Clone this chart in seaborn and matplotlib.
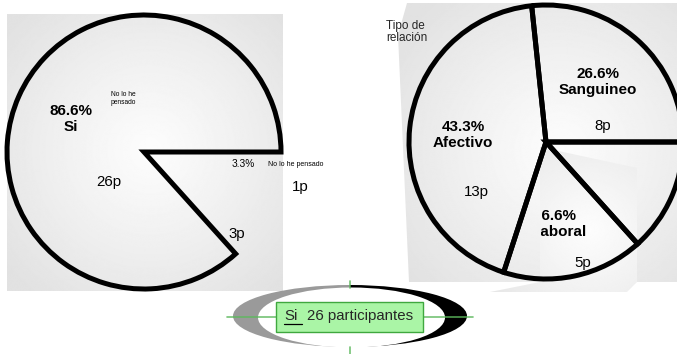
import numpy as np
import matplotlib
matplotlib.use("Agg")
import matplotlib.pyplot as plt
import seaborn as sns
from matplotlib.patches import Rectangle, Ellipse, Polygon

# ---------------- data ----------------
left_labels = ["Si", "", "No lo he pensado"]
left_counts = [26, 3, 1]
left_pct_labels = ["86.6%", "", "3.3%"]

right_labels = ["Sanguineo", "Afectivo", "Laboral", ""]
right_counts = [8, 13, 5, 4]
right_pct_labels = ["26.6%", "43.3%", "16.6%", ""]

summary_cat = "Si"
summary_n = 26
group_title = "Tipo de\nrelación"

# ---------------- style ----------------
sns.set_theme(style="white")
plt.rcParams["font.family"] = ["Liberation Sans", "DejaVu Sans"]

W, H = 677, 354
fig = plt.figure(figsize=(W / 100, H / 100), dpi=100)
ax = fig.add_axes([0, 0, 1, 1])
ax.set_xlim(0, W)
ax.set_ylim(H, 0)
ax.axis("off")


def radial_bg(x0, x1, y0, y1, cx, cy, R, lo, hi, clip=None, z=0):
    xs = np.linspace(x0, x1, 300)
    ys = np.linspace(y0, y1, 300)
    X, Y = np.meshgrid(xs, ys)
    r = np.clip(np.hypot(X - cx, Y - cy) / R, 0, 1)
    Z = hi - (hi - lo) * r ** 1.1
    im = ax.imshow(Z, extent=(x0, x1, y1, y0), cmap="gray", vmin=0, vmax=1,
                   origin="upper", zorder=z, interpolation="bilinear", aspect="auto")
    if clip is not None:
        ax.add_patch(clip)
        clip.set_visible(False)
        im.set_clip_path(clip)
    return im


# backgrounds
radial_bg(7, 283, 14, 291, 150, 150, 185, 0.885, 0.99)
poly_main = Polygon([(398, 35), (407, 3), (677, 3), (677, 282), (409, 282)],
                    closed=True, transform=ax.transData)
radial_bg(395, 677, 3, 282, 560, 150, 195, 0.885, 0.99, clip=poly_main)
poly_low = Polygon([(540, 147), (637, 168), (637, 282), (627, 292), (490, 292), (540, 282)],
                   closed=True, transform=ax.transData)
radial_bg(488, 640, 145, 293, 590, 230, 120, 0.9, 0.99, clip=poly_low, z=0.5)

EDGE = dict(edgecolor="black", linewidth=3.6, facecolor="none", joinstyle="miter")

# left pie (only the "Si" slice is outlined)
wl, _ = ax.pie(left_counts, startangle=0, counterclock=False, radius=137,
               center=(144, 152), wedgeprops=EDGE, frame=True)
for i, w in enumerate(wl):
    w.set_zorder(2)
    if i > 0:
        w.set_visible(False)

# right pie
wr, _ = ax.pie(right_counts, startangle=0, counterclock=False, radius=137,
               center=(546, 142), wedgeprops=EDGE, frame=True)
for w in wr:
    w.set_zorder(2)

ax.set_xlim(0, W)
ax.set_ylim(H, 0)
ax.set_aspect("auto")
ax.axis("off")

# ---------------- texts left ----------------
kw = dict(ha="center", va="center", zorder=4, color="black")
ax.text(71, 119, f"{left_pct_labels[0]}\n{left_labels[0]}", fontsize=11,
        fontweight="bold", linespacing=1.1, **kw)
ax.text(123, 98, "No lo he\npensado", fontsize=4.8, linespacing=1.2, **kw)
ax.text(109, 182, f"{left_counts[0]}p", fontsize=10.8, **kw)
ax.text(243, 164, left_pct_labels[2], fontsize=7.3, **kw)
ax.text(296, 164, left_labels[2], fontsize=5, **kw)
ax.text(300, 187, f"{left_counts[2]}p", fontsize=10.8, **kw)
ax.text(237, 234, f"{left_counts[1]}p", fontsize=10.8, **kw)

# ---------------- texts right ----------------
ax.text(386, 32, group_title, fontsize=8.5, ha="left", va="center",
        linespacing=1.1, zorder=4)
ax.text(598, 82, f"{right_pct_labels[0]}\n{right_labels[0]}", fontsize=11,
        fontweight="bold", linespacing=1.15, **kw)
ax.text(603, 126, f"{right_counts[0]}p", fontsize=10.8, **kw)
ax.text(463, 135, f"{right_pct_labels[1]}\n{right_labels[1]}", fontsize=11,
        fontweight="bold", linespacing=1.15, **kw)
ax.text(476, 192, f"{right_counts[1]}p", fontsize=10.8, **kw)
clip_r = Rectangle((542, 0), 200, H, transform=ax.transData)
t1 = ax.text(554, 216, right_pct_labels[2], fontsize=11, fontweight="bold",
             clip_on=True, **kw)
t1.set_clip_path(clip_r)
t2 = ax.text(558.5, 232, right_labels[2], fontsize=11, fontweight="bold",
             clip_on=True, **kw)
t2.set_clip_path(Rectangle((541, 0), 200, H, transform=ax.transData))
ax.text(583, 263, f"{right_counts[2]}p", fontsize=10.8, **kw)

# ---------------- summary badge ----------------
cx, cy = 350, 316
outer_g = Ellipse((cx, cy), 234, 62, facecolor="#9a9a9a", edgecolor="none", zorder=5)
outer_b = Ellipse((cx, cy), 234, 62, facecolor="black", edgecolor="none", zorder=5)
ax.add_patch(outer_g)
ax.add_patch(outer_b)
outer_g.set_clip_path(Rectangle((0, 0), cx, H, transform=ax.transData))
outer_b.set_clip_path(Rectangle((cx, 0), W, H, transform=ax.transData))
ax.add_patch(Ellipse((351.5, 317.5), 187, 60, facecolor="white", edgecolor="none", zorder=6))

green = "#5cb85c"
ax.plot([227, 473], [317, 317], color=green, lw=1.2, alpha=0.85, zorder=7)
ax.plot([350, 350], [281, 288], color=green, lw=1.2, alpha=0.85, zorder=7)
ax.plot([350, 350], [347, 354], color=green, lw=1.2, alpha=0.85, zorder=7)

ax.add_patch(Rectangle((276, 302), 147, 30, facecolor="#aaf5a6", edgecolor="#3fa83f",
                       lw=1.0, zorder=8))
ax.text(284, 316, summary_cat, fontsize=10.8, ha="left", va="center", zorder=9)
ax.plot([284, 302], [323.5, 323.5], color="black", lw=0.9, zorder=9)
ax.text(307, 316, f"{summary_n} participantes", fontsize=10.8, ha="left",
        va="center", zorder=9)

fig.savefig("out.png", dpi=100)
